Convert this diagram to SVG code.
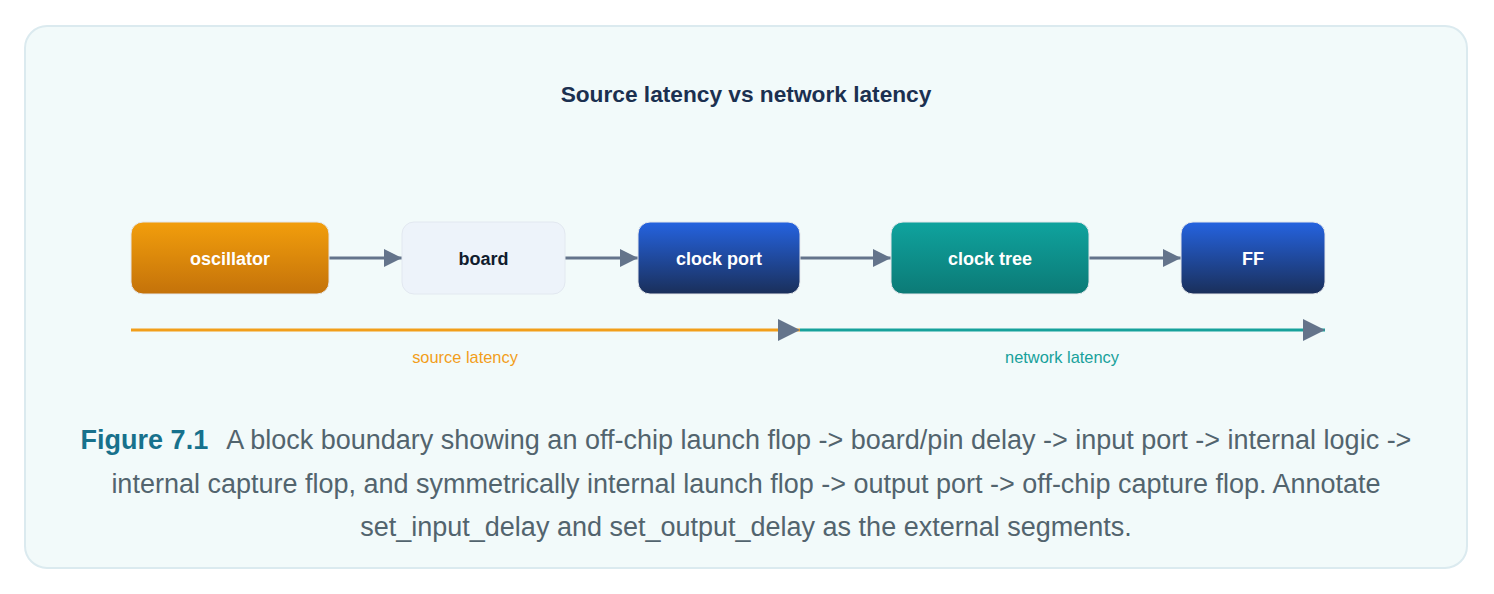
<svg xmlns="http://www.w3.org/2000/svg" width="1494" height="594" viewBox="0 0 1494 594">
<defs>
<style>
.node-label{font-family:"Liberation Sans",Arial,sans-serif;font-size:18px;font-weight:bold;text-anchor:middle;dominant-baseline:central}
.conn{stroke:#64748b;stroke-width:3;fill:none}
.cap{font-family:"Liberation Sans",Arial,sans-serif;font-size:27px;fill:#52646e;text-anchor:middle}
.lat{font-family:"Liberation Sans",Arial,sans-serif;font-size:16.4px;text-anchor:middle}
</style>
<linearGradient id="gOrange" x1="0" y1="0" x2="0" y2="1"><stop offset="0" stop-color="#f29e0c"/><stop offset="1" stop-color="#c4720a"/></linearGradient>
<linearGradient id="gBlue" x1="0" y1="0" x2="0" y2="1"><stop offset="0" stop-color="#2563e0"/><stop offset="1" stop-color="#1a2f5a"/></linearGradient>
<linearGradient id="gTeal" x1="0" y1="0" x2="0" y2="1"><stop offset="0" stop-color="#0fa39e"/><stop offset="1" stop-color="#0c7a76"/></linearGradient>
<marker id="arr" viewBox="0 0 10 10" refX="10" refY="5" markerWidth="20" markerHeight="18" markerUnits="userSpaceOnUse" orient="auto"><path d="M0,0 L10,5 L0,10 Z" fill="#64748b"/></marker>
<marker id="arrBig" viewBox="0 0 10 10" refX="10" refY="5" markerWidth="25" markerHeight="22" markerUnits="userSpaceOnUse" orient="auto"><path d="M0,0 L10,5 L0,10 Z" fill="#64748b"/></marker>
</defs>
<rect x="25" y="26" width="1442" height="542" rx="22" fill="#f2fafa" stroke="#dbeaef" stroke-width="2"/>
<text x="746" y="102" font-family="'Liberation Sans',Arial,sans-serif" font-size="22.7" font-weight="bold" fill="#1b3050" text-anchor="middle">Source latency vs network latency</text>
<g id="connectors">
<line class="conn" x1="329" y1="258" x2="402" y2="258" marker-end="url(#arr)"/>
<line class="conn" x1="565" y1="258" x2="638" y2="258" marker-end="url(#arr)"/>
<line class="conn" x1="800" y1="258" x2="891" y2="258" marker-end="url(#arr)"/>
<line class="conn" x1="1089" y1="258" x2="1181" y2="258" marker-end="url(#arr)"/>
</g>
<g id="node-oscillator"><rect x="131" y="222" width="198" height="72" rx="12" fill="url(#gOrange)" stroke="#e5e7eb" stroke-width="1"/><text class="node-label" x="230" y="259" fill="#ffffff">oscillator</text></g>
<g id="node-board"><rect x="402" y="222" width="163" height="72" rx="12" fill="#edf3fa" stroke="#e2e8f0" stroke-width="1"/><text class="node-label" x="483.5" y="259" fill="#111c2e">board</text></g>
<g id="node-clock-port"><rect x="638" y="222" width="162" height="72" rx="12" fill="url(#gBlue)" stroke="#e5e7eb" stroke-width="1"/><text class="node-label" x="719" y="259" fill="#ffffff">clock port</text></g>
<g id="node-clock-tree"><rect x="891" y="222" width="198" height="72" rx="12" fill="url(#gTeal)" stroke="#e5e7eb" stroke-width="1"/><text class="node-label" x="990" y="259" fill="#ffffff">clock tree</text></g>
<g id="node-ff"><rect x="1181" y="222" width="144" height="72" rx="12" fill="url(#gBlue)" stroke="#e5e7eb" stroke-width="1"/><text class="node-label" x="1253" y="259" fill="#ffffff">FF</text></g>
<g id="latency">
<line x1="131" y1="330" x2="800" y2="330" stroke="#f29e1a" stroke-width="3" marker-end="url(#arrBig)"/>
<line x1="800" y1="330" x2="1325" y2="330" stroke="#17a19b" stroke-width="3" marker-end="url(#arrBig)"/>
<text class="lat" x="465" y="363" fill="#f29e1a">source latency</text>
<text class="lat" x="1062" y="363" fill="#17a19b">network latency</text>
</g>
<g id="caption">
<text class="cap" x="746" y="449"><tspan font-weight="bold" fill="#17718c">Figure 7.1</tspan><tspan dx="18">A block boundary showing an off-chip launch flop -&gt; board/pin delay -&gt; input port -&gt; internal logic -&gt;</tspan></text>
<text class="cap" x="746" y="493">internal capture flop, and symmetrically internal launch flop -&gt; output port -&gt; off-chip capture flop. Annotate</text>
<text class="cap" x="746" y="536">set_input_delay and set_output_delay as the external segments.</text>
</g>
</svg>
